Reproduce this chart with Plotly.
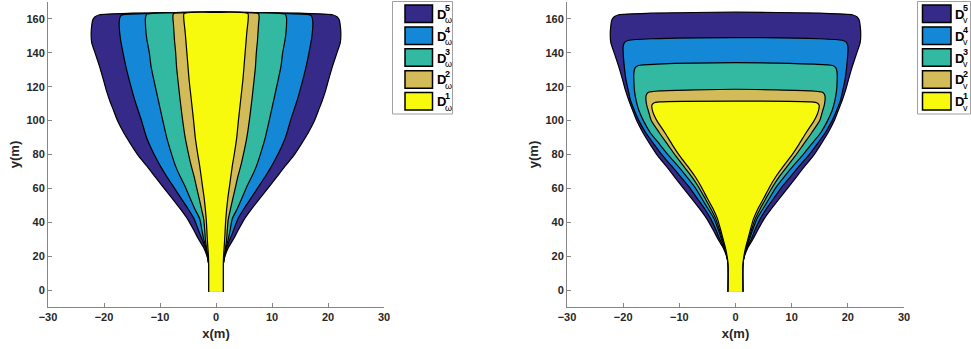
import plotly.graph_objects as go
from plotly.subplots import make_subplots

# ---------------- data: right-half outlines (x >= 0), mirrored about x = 0 ----------------
# Outer region D^5 (same in both panels)
d5_y = [-1, 15, 20, 25, 30, 35, 42, 48, 54, 61, 67, 73, 79, 86, 93, 100, 106, 112, 118, 124,
        132, 140, 146, 151, 156, 159.5, 161.3, 162.5, 163.4, 164.0]
d5_x = [1.3, 1.3, 1.6, 2.2, 3.1, 3.9, 5.1, 6.4, 7.8, 9.5, 10.9, 12.3, 13.8, 15.2, 16.5, 17.6, 18.3, 19.0, 19.6, 20.1,
        20.8, 21.6, 22.2, 22.3, 22.2, 22.0, 21.6, 20.8, 15.0, 0]

# Left panel (D_omega)
w4_y = [-1, 15, 20, 25, 30, 35, 42, 48, 54, 61, 67, 73, 81, 90, 100, 112, 124, 132, 140, 147, 152, 157, 160.5, 162.2, 163.2, 164.0]
w4_x = [1.3, 1.3, 1.55, 1.9, 2.5, 3.1, 3.9, 5.0, 6.2, 7.6, 8.8, 9.9, 11.2, 12.4, 13.3, 14.5, 15.5, 16.1, 16.6, 17.0, 17.2, 17.3, 17.2, 16.9, 12.0, 0]
w3_y = [-1, 15, 20, 25, 30, 35, 42, 48, 54, 61, 67, 73, 81, 90, 100, 112, 124, 132, 140, 147, 152, 157, 160.5, 162.7, 163.6, 164.0]
w3_x = [1.3, 1.3, 1.5, 1.8, 2.2, 2.5, 2.9, 3.8, 4.6, 5.5, 6.4, 7.2, 8.0, 8.8, 9.5, 10.3, 11.1, 11.6, 11.9, 12.3, 12.5, 12.6, 12.6, 12.4, 8.0, 0]
w2_y = [-1, 15, 20, 25, 30, 35, 42, 48, 54, 61, 67, 73, 81, 90, 100, 112, 124, 132, 140, 147, 152, 157, 161, 163.1, 163.8, 164.0]
w2_x = [1.3, 1.3, 1.45, 1.7, 1.9, 2.0, 2.2, 2.6, 3.0, 3.5, 3.9, 4.4, 4.95, 5.5, 5.95, 6.4, 6.8, 7.05, 7.2, 7.4, 7.5, 7.6, 7.7, 7.6, 5.0, 0]
w1_y = [-1, 15, 20, 25, 30, 42, 54, 61, 73, 81, 90, 100, 112, 124, 132, 140, 152, 160, 163.2, 163.9]
w1_x = [1.3, 1.3, 1.35, 1.45, 1.55, 1.75, 2.1, 2.4, 2.9, 3.3, 3.7, 4.0, 4.4, 4.8, 5.0, 5.2, 5.5, 5.75, 5.7, 0]

# Right panel (D_v)
v4_y = [-1, 15, 20, 25, 30, 35, 42, 48, 54, 61, 67, 73, 79, 86, 93, 100, 106, 112, 118, 124, 132, 140, 144, 146.3, 147.4, 148.3, 149.0]
v4_x = [1.3, 1.3, 1.55, 2.0, 2.8, 3.4, 4.4, 5.5, 6.8, 8.3, 9.8, 11.3, 12.9, 14.5, 16.0, 17.2, 18.0, 18.7, 19.1, 19.5, 19.8, 20.0, 20.0, 19.7, 19.0, 15.0, 0]
v3_y = [-1, 15, 20, 25, 30, 35, 42, 48, 54, 61, 67, 73, 79, 86, 93, 100, 106, 112, 118, 124, 128, 131, 132.5, 133.3, 134.2]
v3_x = [1.3, 1.3, 1.52, 1.9, 2.5, 3.0, 3.8, 4.9, 6.0, 7.3, 8.7, 10.2, 11.8, 13.5, 15.2, 16.4, 17.2, 17.7, 18.0, 18.1, 18.1, 17.9, 17.3, 14.0, 0]
v2_y = [-1, 15, 20, 25, 30, 35, 42, 48, 54, 61, 67, 73, 79, 86, 93, 100, 104.5, 109, 112.4, 115, 116.7, 117.6, 118.5]
v2_x = [1.3, 1.3, 1.5, 1.85, 2.35, 2.8, 3.5, 4.4, 5.4, 6.6, 7.8, 9.2, 10.6, 12.1, 13.6, 15.0, 15.4, 15.8, 15.95, 15.9, 15.5, 13.5, 0]
v1_y = [-1, 15, 20, 25, 30, 35, 42, 48, 54, 61, 67, 73, 79, 86, 93, 100, 104, 107, 109, 110.3, 111, 111.5]
v1_x = [1.3, 1.3, 1.5, 1.8, 2.2, 2.6, 3.2, 4.0, 5.0, 6.1, 7.2, 8.5, 9.9, 11.3, 12.6, 14.0, 14.6, 14.85, 14.9, 14.6, 13.5, 0]

level_names = ["5", "4", "3", "2", "1"]
colors = ["#352a87", "#1487d6", "#33b8a1", "#d2bb58", "#f8fa0d"]

left_sets = [(d5_x, d5_y), (w4_x, w4_y), (w3_x, w3_y), (w2_x, w2_y), (w1_x, w1_y)]
right_sets = [(d5_x, d5_y), (v4_x, v4_y), (v3_x, v3_y), (v2_x, v2_y), (v1_x, v1_y)]


def outline(hx, hy):
    xs = list(hx) + [-v for v in reversed(hx[:-1])]
    ys = list(hy) + list(reversed(hy[:-1]))
    return xs, ys


W, H = 971, 349
FONT = "Liberation Sans, Arial"
fig = make_subplots(rows=1, cols=2)

for col, sets in ((1, left_sets), (2, right_sets)):
    for (hx, hy), c in zip(sets, colors):
        xs, ys = outline(hx, hy)
        fig.add_trace(go.Scatter(x=xs, y=ys, fill="toself", fillcolor=c, mode="lines",
                                 line=dict(color="black", width=1.2, shape="spline", smoothing=0.6),
                                 showlegend=False, hoverinfo="skip"), row=1, col=col)

axis_common = dict(showline=True, linecolor="#868686", linewidth=1, ticks="inside", ticklen=4,
                   tickcolor="#868686", showgrid=False, zeroline=False, mirror=False, automargin=False,
                   tickfont=dict(family=FONT, size=11, color="#262626", weight="bold"))
ydom = [(H - 307) / H, (H - 2) / H]
for i, (x0, x1) in enumerate(((48, 384), (567, 904)), start=1):
    xa = "xaxis" if i == 1 else "xaxis2"
    ya = "yaxis" if i == 1 else "yaxis2"
    fig.layout[xa].update(axis_common, domain=[x0 / W, x1 / W], range=[-30, 30],
                          tickvals=[-30, -20, -10, 0, 10, 20, 30],
                          title=dict(text="x(m)", standoff=6,
                                     font=dict(family=FONT, size=13, color="#262626", weight="bold")))
    fig.layout[ya].update(axis_common, domain=ydom, range=[-10, 170],
                          tickvals=[0, 20, 40, 60, 80, 100, 120, 140, 160],
                          title=dict(text="y(m)", standoff=3,
                                     font=dict(family=FONT, size=13, color="#262626", weight="bold")))

# ---------------- manual legends ----------------
shapes = []
annotations = []


def px(x):
    return x / W


def py(y):
    return 1 - y / H


def add_legend(box, rect_x, text_x, sub_labels):
    bx0, bx1, by0, by1 = box
    shapes.append(dict(type="rect", xref="paper", yref="paper", x0=px(bx0), x1=px(bx1), y0=py(by1), y1=py(by0),
                       line=dict(color="#a0a0a0", width=1), fillcolor="white", layer="above"))
    for k, (name, c) in enumerate(zip(level_names, colors)):
        top = 5 + 21.9 * k
        bot = top + 17.5
        shapes.append(dict(type="rect", xref="paper", yref="paper", x0=px(rect_x[0]), x1=px(rect_x[1]),
                           y0=py(bot), y1=py(top), fillcolor=c, line=dict(color="black", width=1.5), layer="above"))
        cy = (top + bot) / 2
        annotations.append(dict(xref="paper", yref="paper", x=px(text_x), y=py(cy + 0.5), text="D",
                                showarrow=False, xanchor="left", yanchor="middle",
                                font=dict(family=FONT, size=13, color="black", weight="bold")))
        annotations.append(dict(xref="paper", yref="paper", x=px(text_x + 8.6), y=py(cy - 5.5), text=name,
                                showarrow=False, xanchor="left", yanchor="middle",
                                font=dict(family=FONT, size=9, color="black", weight="bold")))
        annotations.append(dict(xref="paper", yref="paper", x=px(text_x + 8.6), y=py(cy + 6.5), text=sub_labels,
                                showarrow=False, xanchor="left", yanchor="middle",
                                font=dict(family=FONT, size=9, color="black", weight="normal")))


add_legend((392.5, 452.5, 1.5, 114), (405, 432.5), 434.5, "ω")
add_legend((917.5, 970.5, 1.5, 114), (922.5, 951), 952.5, "v")

fig.update_layout(width=W, height=H, margin=dict(l=0, r=0, t=0, b=0),
                  paper_bgcolor="white", plot_bgcolor="white",
                  shapes=shapes, annotations=annotations, showlegend=False)

fig.write_html("out.html", config={"displayModeBar": False, "staticPlot": True},
               post_script="document.body.style.margin='0';document.body.style.overflow='hidden';")
